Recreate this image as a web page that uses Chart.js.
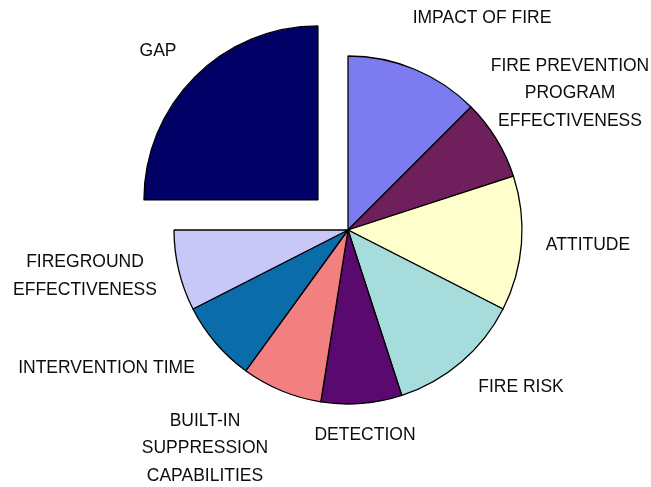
<!DOCTYPE html>
<html>
<head>
<meta charset="utf-8">
<script src="https://cdn.jsdelivr.net/npm/chart.js@4/dist/chart.umd.min.js"></script>
<style>
  html, body { margin: 0; padding: 0; background: #ffffff; }
  #wrap { width: 651px; height: 487px; }
</style>
</head>
<body>
<div id="wrap"><canvas id="pie" width="651" height="487"></canvas></div>
<script>
// Slice names, one line per entry of the inner array
const categories = [
  ['IMPACT OF FIRE'],
  ['FIRE PREVENTION', 'PROGRAM', 'EFFECTIVENESS'],
  ['ATTITUDE'],
  ['FIRE RISK'],
  ['DETECTION'],
  ['BUILT-IN', 'SUPPRESSION', 'CAPABILITIES'],
  ['INTERVENTION TIME'],
  ['FIREGROUND', 'EFFECTIVENESS'],
  ['GAP']
];

// Share of each factor (percent)
const shares = [12.5, 7.5, 12.5, 12.5, 7.5, 7.5, 7.5, 7.5, 25];

// Slice fills
const fills = ['#7c7cf0', '#6e1f5c', '#ffffcc', '#a6dcdc', '#5a0a6e',
               '#f28080', '#0a6ca8', '#c8c8f8', '#000066'];

// The GAP slice is pulled away from the rest
const explode = [0, 0, 0, 0, 0, 0, 0, 0, 170];

// Where each label sits, relative to the pie centre (px)
const labelSpots = [
  [134, -212], [222, -136.5], [240, 15], [173, 157], [17, 205],
  [-143, 218.5], [-241.5, 138], [-263, 46], [-190, -178.5]
];

const sliceLabels = {
  id: 'sliceLabels',
  afterDatasetsDraw(chart) {
    const arcs = chart.getDatasetMeta(0).data;
    if (!arcs.length) return;
    const cx = arcs[0].x, cy = arcs[0].y;
    const ctx = chart.ctx;
    ctx.save();
    ctx.font = '17.5px "Liberation Sans", Arial, sans-serif';
    ctx.fillStyle = '#0d0d0d';
    ctx.textAlign = 'center';
    ctx.textBaseline = 'middle';
    const lineH = 27.5;
    categories.forEach((lines, i) => {
      const [dx, dy] = labelSpots[i];
      const top = cy + dy - (lines.length - 1) * lineH / 2;
      lines.forEach((t, k) => ctx.fillText(t, cx + dx, top + k * lineH));
    });
    ctx.restore();
  }
};

new Chart(document.getElementById('pie'), {
  type: 'pie',
  data: {
    labels: categories.map(l => l.join(' ')),
    datasets: [{
      data: shares,
      backgroundColor: fills,
      borderColor: '#000000',
      borderWidth: 1.3,
      offset: explode,
      hoverOffset: 0,
      clip: false
    }]
  },
  options: {
    responsive: false,
    animation: false,
    events: [],
    radius: 174,
    layout: { padding: { left: 45, right: 0, top: 0, bottom: 27 } },
    plugins: {
      legend: { display: false },
      tooltip: { enabled: false }
    }
  },
  plugins: [sliceLabels]
});
</script>
</body>
</html>
